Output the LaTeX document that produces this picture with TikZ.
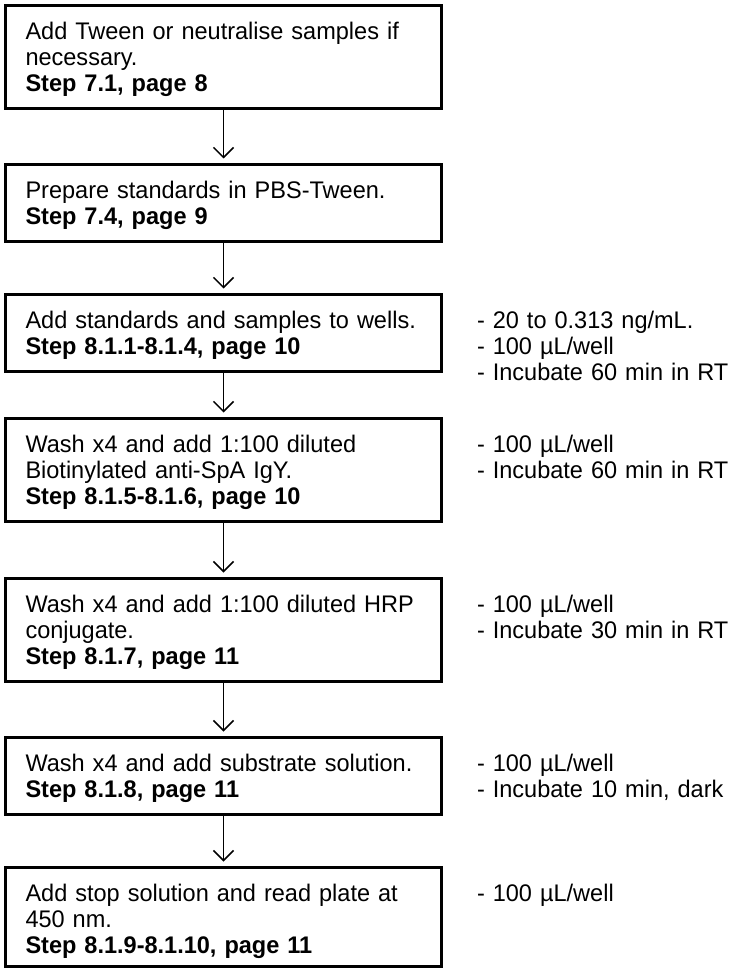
\documentclass[tikz,border=0pt]{standalone}
\usepackage{fontspec}
\setmainfont{Liberation Sans}[FakeStretch=0.98]
\usetikzlibrary{arrows.meta}
\tikzset{
  stepbox/.style={draw, line width=3pt, rectangle, outer sep=0pt,
    inner xsep=20pt, inner ysep=16pt, text width=396pt, align=left,
    anchor=north west, text height=18pt, font=\fontsize{24}{26}\selectfont},
  twoline/.style={text depth=27pt},
  threeline/.style={text depth=53pt},
  sidetext/.style={inner sep=0pt, outer sep=0pt, anchor=north west,
    text width=260pt, align=left, text height=18pt,
    font=\fontsize{24}{26}\selectfont},
  flow/.style={line width=1.5pt, -{Straight Barb[length=10pt,width=20pt]},
    shorten >=6pt},
}
\begin{document}
\begin{tikzpicture}[x=1pt,y=-1pt]
\useasboundingbox (0,0) rectangle (728,968);

\node[stepbox, threeline] (b1) at (5.5,5.5)
  {Add Tween or neutralise samples if\\necessary.\\\textbf{Step 7.1, page 8}};
\node[stepbox, twoline] (b2) at (5.5,164.5)
  {Prepare standards in PBS-Tween.\\\textbf{Step 7.4, page 9}};
\node[stepbox, twoline] (b3) at (5.5,294.5)
  {\mbox{Add standards and samples to wells.}\\\textbf{Step 8.1.1-8.1.4, page 10}};
\node[stepbox, threeline] (b4) at (5.5,418.5)
  {Wash x4 and add 1:100 diluted\\Biotinylated anti-SpA IgY.\\\textbf{Step 8.1.5-8.1.6, page 10}};
\node[stepbox, threeline] (b5) at (5.5,578.5)
  {\mbox{Wash x4 and add 1:100 diluted HRP}\\conjugate.\\\textbf{Step 8.1.7, page 11}};
\node[stepbox, twoline] (b6) at (5.5,737.5)
  {\mbox{Wash x4 and add substrate solution.}\\\textbf{Step 8.1.8, page 11}};
\node[stepbox, text depth=49pt] (b7) at (5.5,867.5)
  {\mbox{Add stop solution and read plate at}\\450 nm.\\\textbf{Step 8.1.9-8.1.10, page 11}};

\node[sidetext] (s3) at ([xshift=35.5pt,yshift=-16pt]b3.north east)
  {- 20 to 0.313 ng/mL.\\- 100 µL/well\\- Incubate 60 min in RT};
\node[sidetext] (s4) at ([xshift=35.5pt,yshift=-16pt]b4.north east)
  {- 100 µL/well\\- Incubate 60 min in RT};
\node[sidetext] (s5) at ([xshift=35.5pt,yshift=-16pt]b5.north east)
  {- 100 µL/well\\- Incubate 30 min in RT};
\node[sidetext] (s6) at ([xshift=35.5pt,yshift=-16pt]b6.north east)
  {- 100 µL/well\\- Incubate 10 min, dark};
\node[sidetext] (s7) at ([xshift=35.5pt,yshift=-16pt]b7.north east)
  {- 100 µL/well};

\draw[flow] (b1.south) -- (b2.north);
\draw[flow] (b2.south) -- (b3.north);
\draw[flow] (b3.south) -- (b4.north);
\draw[flow] (b4.south) -- (b5.north);
\draw[flow] (b5.south) -- (b6.north);
\draw[flow] (b6.south) -- (b7.north);
\end{tikzpicture}
\end{document}
